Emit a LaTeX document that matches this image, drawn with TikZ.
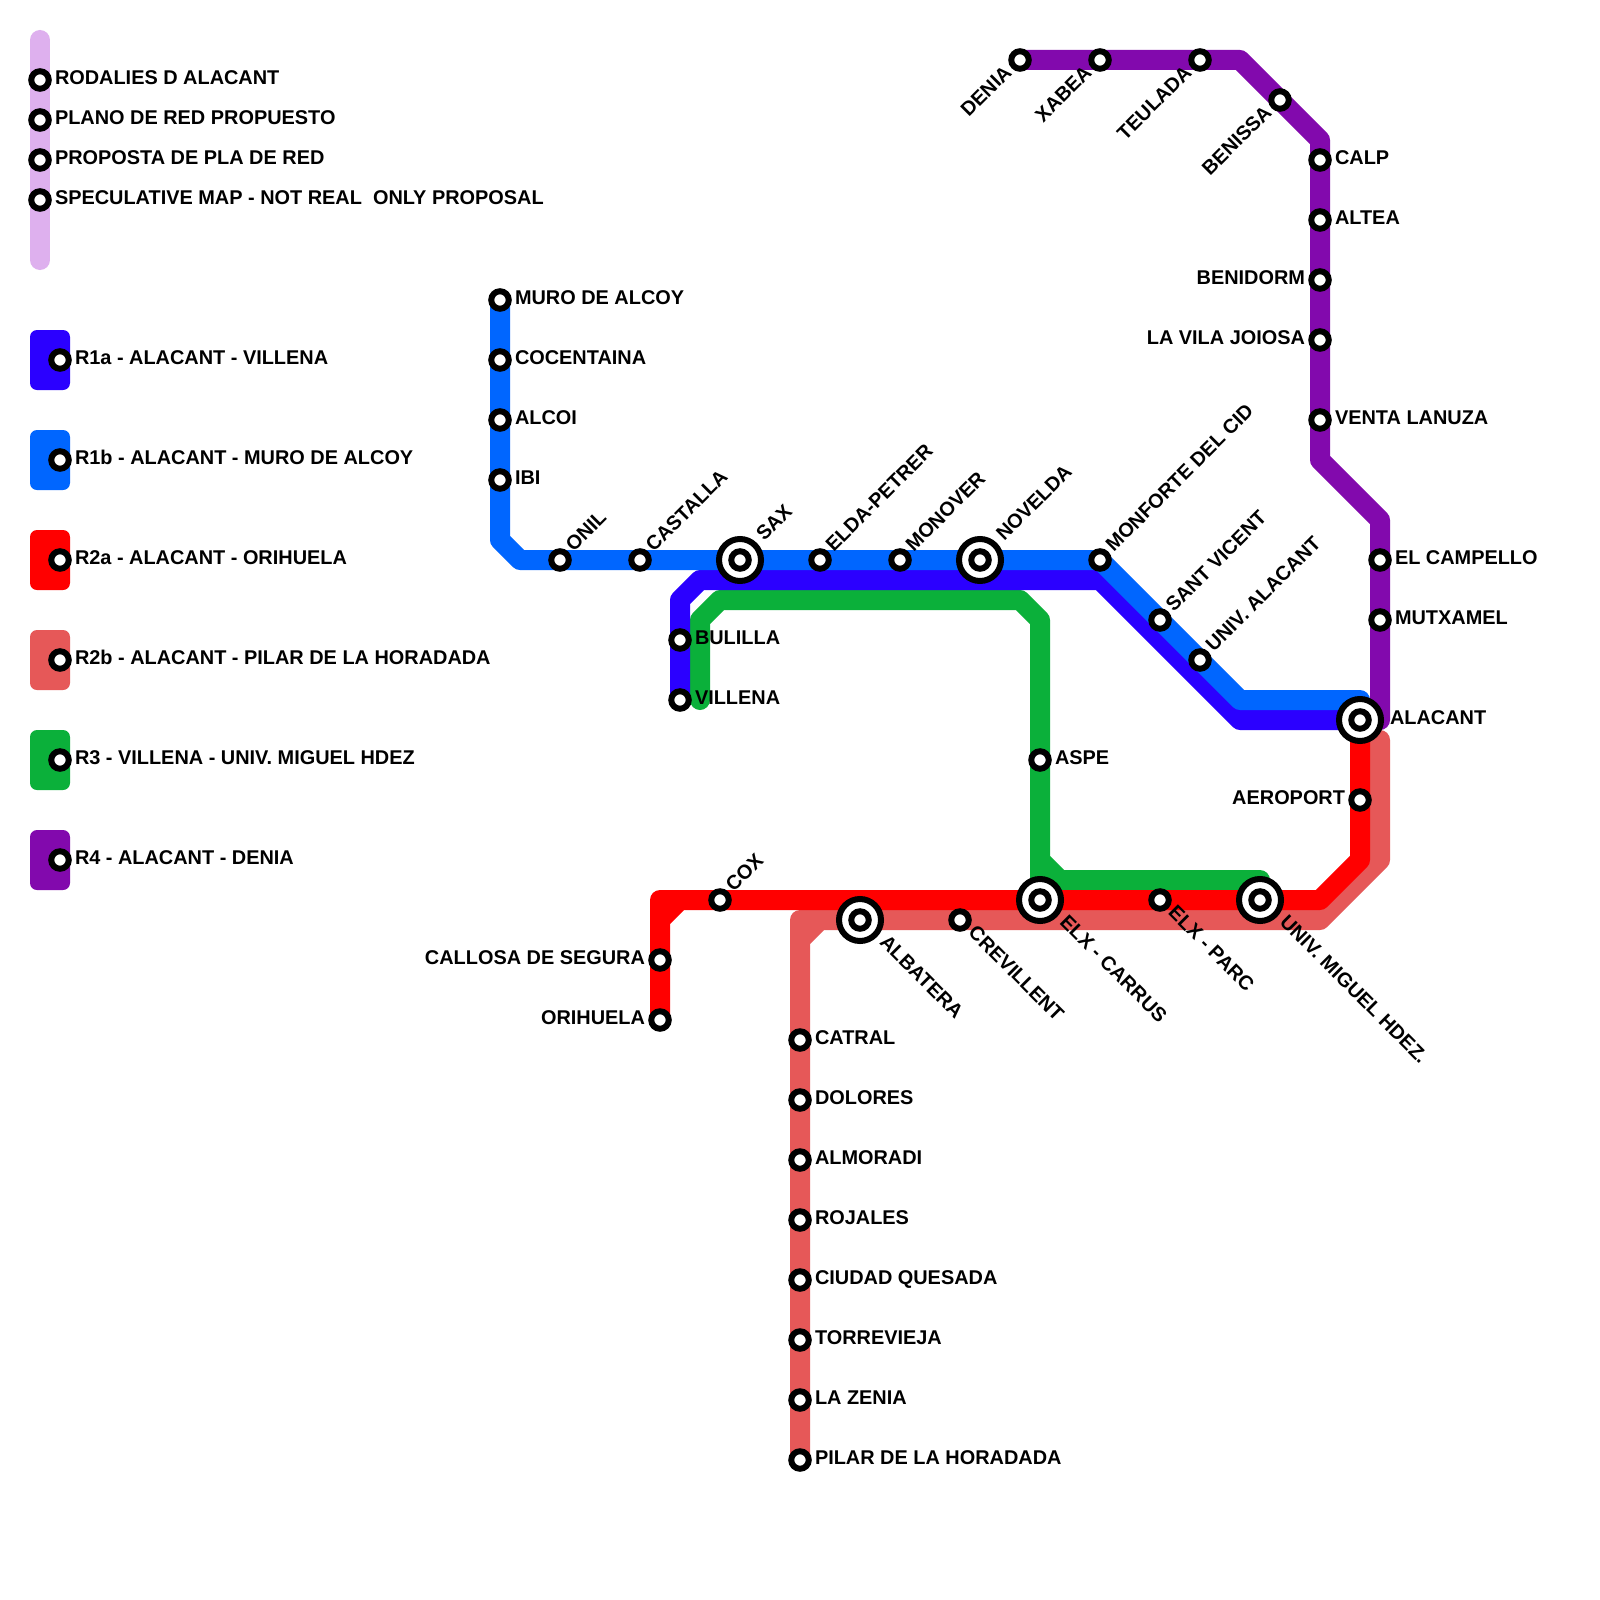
\documentclass[tikz,border=0pt]{standalone}
\usepackage{fontspec}
\setmainfont{Liberation Sans}
\definecolor{cpale}{HTML}{DEB0EE}
\definecolor{cindigo}{HTML}{2B00FF}
\definecolor{cblue}{HTML}{0066FF}
\definecolor{cred}{HTML}{FF0000}
\definecolor{csalmon}{HTML}{E65858}
\definecolor{cgreen}{HTML}{0BB03A}
\definecolor{cpurple}{HTML}{8209AD}
\tikzset{
  route/.style={line width=20pt,line join=round,line cap=round},
  legendbox/.style={rounded corners=7pt,draw=none},
  stn/.style={circle,draw=black,fill=white,line width=6pt,minimum size=17.5pt,inner sep=0pt,outer sep=0pt},
  hub/.style={circle,draw=black,fill=white,line width=6pt,minimum size=42pt,inner sep=0pt,outer sep=0pt},
  lab/.style={font=\fontsize{19.9}{20}\selectfont\bfseries,inner sep=0pt,outer sep=0pt,text=black},
  hr/.style={lab,anchor=base west},
  hl/.style={lab,anchor=base east},
  ur/.style={lab,anchor=base west,rotate=45},
  ul/.style={lab,anchor=base east,rotate=45},
  dr/.style={lab,anchor=base west,rotate=-45},
}
\begin{document}
\begin{tikzpicture}[x=1pt,y=-1pt]
\useasboundingbox (0,0) rectangle (1600,1600);
\fill[white] (0,0) rectangle (1600,1600);
% legend
\coordinate (lt) at (40,40); \coordinate (lb) at (40,260);
\coordinate (l1) at (40,80); \coordinate (l2) at (40,120); \coordinate (l3) at (40,160); \coordinate (l4) at (40,200);
\draw[route,cpale] (lt) -- (lb);
\fill[legendbox,cindigo] (30,330) rectangle (70,390);
\fill[legendbox,cblue] (30,430) rectangle (70,490);
\fill[legendbox,cred] (30,530) rectangle (70,590);
\fill[legendbox,csalmon] (30,630) rectangle (70,690);
\fill[legendbox,cgreen] (30,730) rectangle (70,790);
\fill[legendbox,cpurple] (30,830) rectangle (70,890);
% bends
\coordinate (b1) at (500,540); \coordinate (b2) at (520,560);
\coordinate (b3) at (1240,700); \coordinate (b4) at (1360,700);
\coordinate (c1) at (680,600); \coordinate (c2) at (700,580); \coordinate (c3) at (1100,580);
\coordinate (c4) at (1240,720); \coordinate (c5) at (1360,720);
\coordinate (g0) at (700,700); \coordinate (g1) at (700,620); \coordinate (g2) at (720,600);
\coordinate (g3) at (1020,600); \coordinate (g4) at (1040,620); \coordinate (g5) at (1040,860);
\coordinate (g8) at (1040,880); \coordinate (g6) at (1060,880); \coordinate (g7) at (1260,880);
\coordinate (p1) at (1240,60); \coordinate (p2) at (1320,140); \coordinate (p3) at (1320,460);
\coordinate (p4) at (1380,520); \coordinate (p5) at (1380,720);
\coordinate (r1) at (660,920); \coordinate (r0) at (660,900); \coordinate (r2) at (680,900);
\coordinate (r3) at (1320,900); \coordinate (r4) at (1360,860);
\coordinate (s1) at (800,940); \coordinate (s0) at (800,920); \coordinate (s2) at (820,920);
\coordinate (s3) at (1320,920); \coordinate (s4) at (1380,860); \coordinate (s5) at (1380,740);
% station positions
\foreach \n/\x/\y in {muro/500/300,coce/500/360,alcoi/500/420,ibi/500/480,onil/560/560,cast/640/560,sax/740/560,elda/820/560,mono/900/560,nove/980/560,monf/1100/560,sant/1160/620,univa/1200/660,
 bul/680/640,vil/680/700,aspe/1040/760,
 den/1020/60,xab/1100/60,teu/1200/60,ben/1280/100,calp/1320/160,alt/1320/220,bdm/1320/280,vila/1320/340,venta/1320/420,camp/1380/560,mut/1380/620,ala/1360/720,
 aero/1360/800,cox/720/900,call/660/960,ori/660/1020,alb/860/920,crev/960/920,carr/1040/900,parc/1160/900,umh/1260/900,
 cat/800/1040,dol/800/1100,alm/800/1160,roj/800/1220,ciu/800/1280,tor/800/1340,zen/800/1400,pil/800/1460,
 k1/60/360,k2/60/460,k3/60/560,k4/60/660,k5/60/760,k6/60/860}
  {\coordinate (\n) at (\x,\y);}
% routes
\draw[route,cpurple] (den) -- (p1) -- (p2) -- (p3) -- (p4) -- (p5);
\draw[route,csalmon] (pil) -- (s1) -- (s2) -- (s3) -- (s4) -- (s5);
\draw[route,csalmon] (s1) -- (s0) -- (s2);
\draw[route,cgreen] (g0) -- (g1) -- (g2) -- (g3) -- (g4) -- (g5) -- (g6) -- (g7);
\draw[route,cgreen] (g5) -- (g8) -- (g6);
\draw[route,cred] (ori) -- (r1) -- (r2) -- (r3) -- (r4) -- (ala);
\draw[route,cred] (r1) -- (r0) -- (r2);
\draw[route,cindigo] (vil) -- (c1) -- (c2) -- (c3) -- (c4) -- (c5);
\draw[route,cblue] (muro) -- (b1) -- (b2) -- (monf) -- (b3) -- (b4);
% stations
\foreach \n in {l1,l2,l3,l4,k1,k2,k3,k4,k5,k6,muro,coce,alcoi,ibi,onil,cast,elda,mono,monf,sant,univa,bul,vil,aspe,den,xab,teu,ben,calp,alt,bdm,vila,venta,camp,mut,aero,cox,call,ori,crev,parc,cat,dol,alm,roj,ciu,tor,zen,pil}
  {\node[stn] (n-\n) at (\n) {};}
\foreach \n in {sax,nove,ala,alb,carr,umh}
  {\node[hub] (h-\n) at (\n) {}; \node[stn] (n-\n) at (\n) {};}
% legend labels
\node[hr] (t1) at ([shift={(15,4.6)}]l1) {RODALIES D ALACANT};
\node[hr] (t2) at ([shift={(15,4.6)}]l2) {PLANO DE RED PROPUESTO};
\node[hr] (t3) at ([shift={(15,4.6)}]l3) {PROPOSTA DE PLA DE RED};
\node[hr] (t4) at ([shift={(15,4.6)}]l4) {SPECULATIVE MAP - NOT REAL\ \ ONLY PROPOSAL};
\node[hr] (t5) at ([shift={(15,4.6)}]k1) {R1a - ALACANT - VILLENA};
\node[hr] (t6) at ([shift={(15,4.6)}]k2) {R1b - ALACANT - MURO DE ALCOY};
\node[hr] (t7) at ([shift={(15,4.6)}]k3) {R2a - ALACANT - ORIHUELA};
\node[hr] (t8) at ([shift={(15,4.6)}]k4) {R2b - ALACANT - PILAR DE LA HORADADA};
\node[hr] (t9) at ([shift={(15,4.6)}]k5) {R3 - VILLENA - UNIV. MIGUEL HDEZ};
\node[hr] (t10) at ([shift={(15,4.6)}]k6) {R4 - ALACANT - DENIA};
% horizontal right labels
\foreach \n/\t in {muro/MURO DE ALCOY,coce/COCENTAINA,alcoi/ALCOI,ibi/IBI,bul/BULILLA,vil/VILLENA,aspe/ASPE,calp/CALP,alt/ALTEA,venta/VENTA LANUZA,camp/EL CAMPELLO,mut/MUTXAMEL,cat/CATRAL,dol/DOLORES,alm/ALMORADI,roj/ROJALES,ciu/CIUDAD QUESADA,tor/TORREVIEJA,zen/LA ZENIA,pil/PILAR DE LA HORADADA}
  {\node[hr] (t-\n) at ([shift={(15,4.6)}]\n) {\t};}
\node[hr] (t-ala) at ([shift={(30,4.6)}]ala) {ALACANT};
% horizontal left labels
\foreach \n/\t in {bdm/BENIDORM,vila/LA VILA JOIOSA,aero/AEROPORT,call/CALLOSA DE SEGURA,ori/ORIHUELA}
  {\node[hl] (t-\n) at ([shift={(-15,4.6)}]\n) {\t};}
% rotated up-right
\foreach \n/\t in {onil/ONIL,cast/CASTALLA,elda/ELDA-PETRER,mono/MONOVER,monf/MONFORTE DEL CID,sant/SANT VICENT,univa/UNIV. ALACANT,cox/COX}
  {\node[ur] (t-\n) at ([shift={(13.9,-7.3)}]\n) {\t};}
\foreach \n/\t in {sax/SAX,nove/NOVELDA}
  {\node[ur] (t-\n) at ([shift={(24.3,-18.1)}]\n) {\t};}
% rotated, ending at the station
\foreach \n/\t in {den/DENIA,xab/XABEA,teu/TEULADA,ben/BENISSA}
  {\node[ul] (t-\n) at ([shift={(-7.3,13.9)}]\n) {\t};}
% rotated down-right
\foreach \n/\t in {crev/CREVILLENT,parc/ELX - PARC}
  {\node[dr] (t-\n) at ([shift={(7.3,13.9)}]\n) {\t};}
\foreach \n/\t in {alb/ALBATERA,carr/ELX - CARRUS,umh/UNIV. MIGUEL HDEZ.}
  {\node[dr] (t-\n) at ([shift={(18.8,23.6)}]\n) {\t};}
\end{tikzpicture}
\end{document}
